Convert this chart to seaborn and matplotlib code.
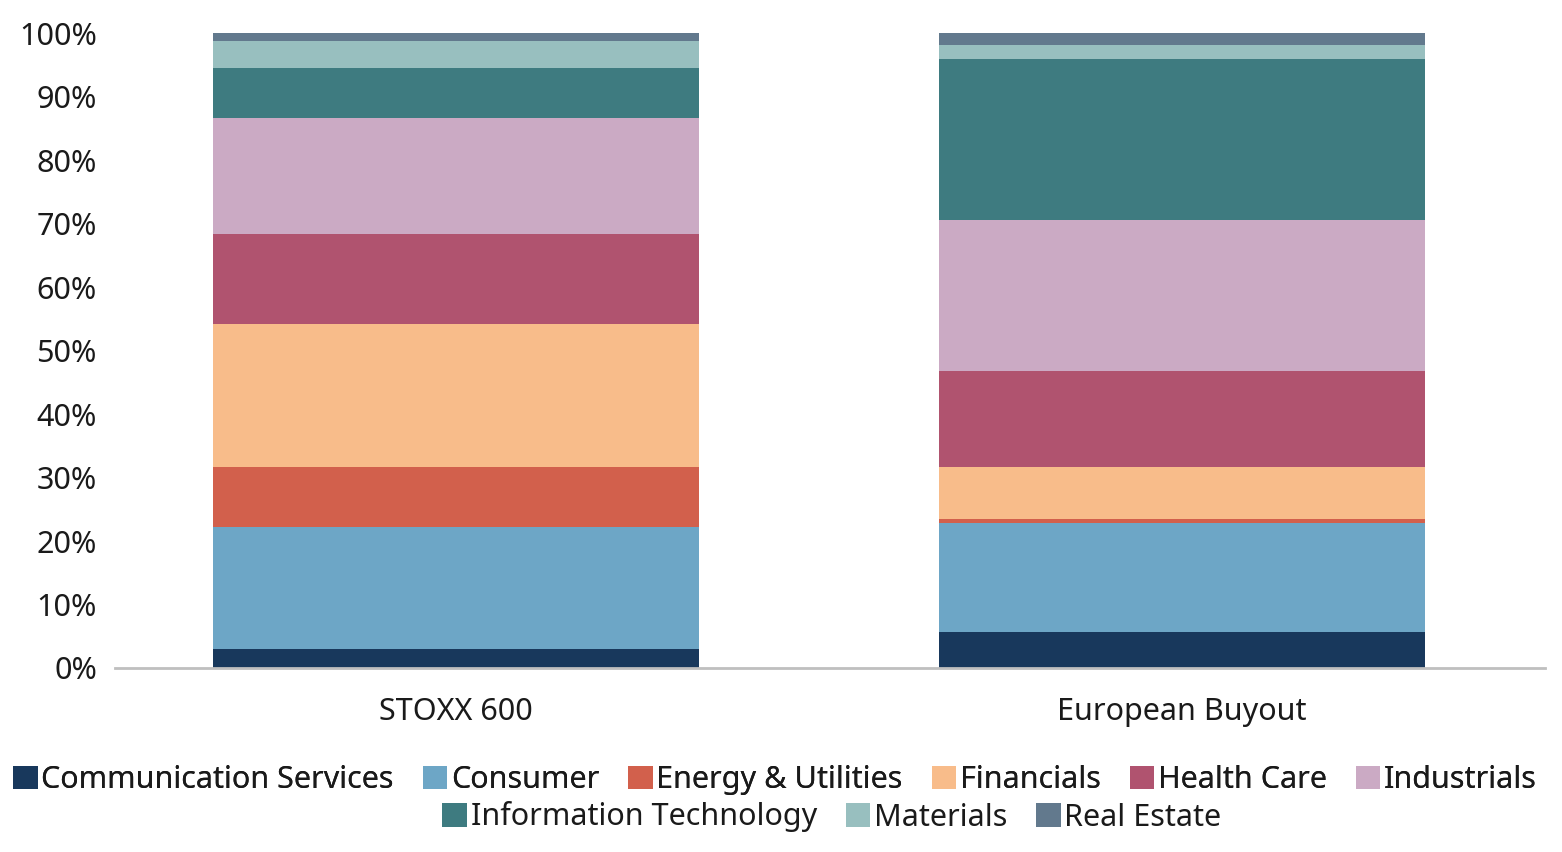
import numpy as np
import pandas as pd
import seaborn as sns
import matplotlib.pyplot as plt
from matplotlib.patches import Patch

portfolios = ["STOXX 600", "European Buyout"]
sectors = [
    "Communication Services", "Consumer", "Energy & Utilities", "Financials",
    "Health Care", "Industrials", "Information Technology", "Materials", "Real Estate",
]
stoxx_600 = [3.0, 19.2, 9.5, 22.5, 14.1, 18.3, 7.9, 4.2, 1.3]
european_buyout = [5.7, 17.2, 0.6, 8.2, 15.1, 23.8, 25.3, 2.2, 1.9]
colors = [
    "#18385C", "#6DA6C6", "#D2604C", "#F8BC8A", "#B0536F",
    "#CBAAC4", "#3E7B80", "#98BFBF", "#62798D",
]

sns.set_theme(style="white")
plt.rcParams["font.family"] = ["Noto Sans", "DejaVu Sans"]
FS = 22

fig = plt.figure(figsize=(15.62, 8.52), dpi=100)
ax = fig.add_axes([0.0736, 0.216, 0.9154, 0.745])

# stacked bars: draw cumulative totals from the top segment down
cum = np.cumsum(np.array([stoxx_600, european_buyout]), axis=1)
for i in range(len(sectors) - 1, -1, -1):
    df = pd.DataFrame({"portfolio": portfolios, "value": cum[:, i]})
    sns.barplot(data=df, x="portfolio", y="value", order=portfolios,
                color=colors[i], saturation=1, width=0.67,
                linewidth=0, ax=ax)

ax.set_ylim(0, 100)
ax.set_xlim(-0.47, 1.50)
ax.set_yticks(np.arange(0, 101, 10))
ax.set_yticklabels([f"{v}%" for v in range(0, 101, 10)])
ax.set_xlabel("")
ax.set_ylabel("")
ax.tick_params(axis="y", labelsize=FS, colors="#1a1a1a", length=0, pad=13)
ax.tick_params(axis="x", labelsize=FS, colors="#1a1a1a", length=0, pad=21)
for label in ax.get_yticklabels():
    label.set_va("center_baseline")
for s in ["top", "right", "left"]:
    ax.spines[s].set_visible(False)
ax.spines["bottom"].set_color("#BFBFBF")
ax.spines["bottom"].set_linewidth(2)
for p in ax.patches:
    p.set_clip_on(False)

handles = [Patch(facecolor=c, edgecolor="none") for c in colors]
leg_kw = dict(frameon=False, fontsize=FS, handlelength=0.8, handleheight=0.8,
              handletextpad=0.12, columnspacing=0.95, labelcolor="#1a1a1a",
              borderpad=0, borderaxespad=0)
leg1 = fig.legend(handles[:6], sectors[:6], ncol=6, loc="center",
                  bbox_to_anchor=(775 / 1562, 1 - 780 / 852), **leg_kw)
fig.add_artist(leg1)
fig.legend(handles[6:], sectors[6:], ncol=3, loc="center",
           bbox_to_anchor=(832 / 1562, 1 - 817 / 852), **leg_kw)

fig.savefig("out.png", dpi=100)
